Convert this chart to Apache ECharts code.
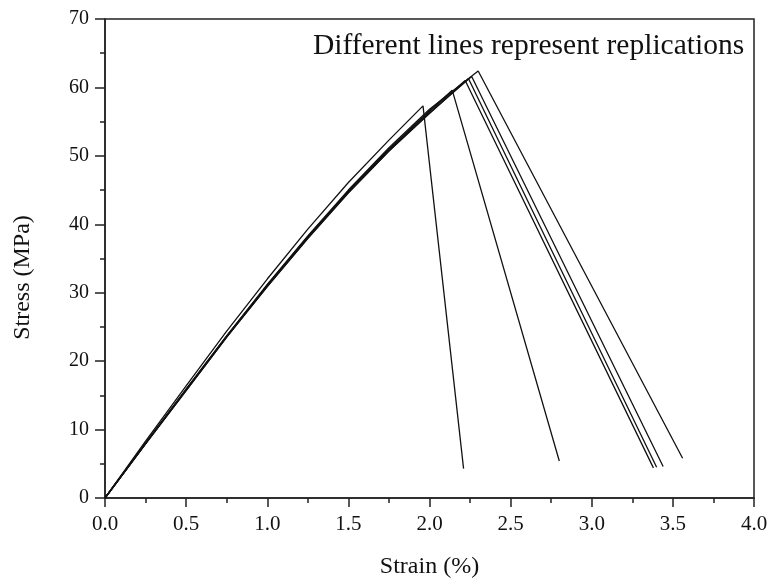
<!DOCTYPE html>
<html>
<head>
<meta charset="utf-8">
<script src="https://cdn.jsdelivr.net/npm/echarts@6/dist/echarts.min.js"></script>
<style>html,body{margin:0;padding:0;background:#fff;}#c{width:770px;height:580px;}</style>
</head>
<body>
<div id="c"></div>
<script>
// Strain (%) and Stress (MPa) for each replication
const strainA = [0, 0.25, 0.5, 0.75, 1.0, 1.25, 1.5, 1.75, 1.96, 2.21];
const stressA = [0, 8.3, 16.4, 24.4, 32.0, 39.3, 46.1, 52.3, 57.3, 4.3];
const strainB = [0, 0.25, 0.5, 0.75, 1.0, 1.25, 1.5, 1.75, 2.0, 2.14, 2.80];
const stressB = [0, 8.0, 15.9, 23.7, 31.1, 38.2, 44.9, 51.0, 56.6, 59.6, 5.4];
const strainC = [0, 0.25, 0.5, 0.75, 1.0, 1.25, 1.5, 1.75, 2.0, 2.22, 3.38];
const stressC = [0, 8.0, 15.8, 23.6, 31.0, 38.1, 44.8, 50.9, 56.5, 61.0, 4.4];
const strainD = [0, 0.25, 0.5, 0.75, 1.0, 1.25, 1.5, 1.75, 2.0, 2.24, 3.40];
const stressD = [0, 7.9, 15.7, 23.5, 30.9, 38.0, 44.6, 50.7, 56.2, 61.3, 4.5];
const strainE = [0, 0.25, 0.5, 0.75, 1.0, 1.25, 1.5, 1.75, 2.0, 2.26, 3.44];
const stressE = [0, 7.9, 15.7, 23.5, 30.9, 37.9, 44.6, 50.7, 56.3, 61.6, 4.6];
const strainF = [0, 0.25, 0.5, 0.75, 1.0, 1.25, 1.5, 1.75, 2.0, 2.30, 3.56];
const stressF = [0, 8.0, 15.9, 23.7, 31.2, 38.3, 45.0, 51.2, 56.8, 62.4, 5.8];

const xTicks = [0, 0.5, 1.0, 1.5, 2.0, 2.5, 3.0, 3.5, 4.0];
const yTicks = [0, 10, 20, 30, 40, 50, 60, 70];
const annotation = 'Different lines represent replications';

const curves = [[strainA, stressA], [strainB, stressB], [strainC, stressC], [strainD, stressD], [strainE, stressE], [strainF, stressF]];
const font = 'Liberation Serif';
const axisColor = '#222';

const chart = echarts.init(document.getElementById('c'), null, {renderer: 'canvas'});
chart.setOption({
  backgroundColor: '#fff',
  animation: false,
  title: {
    text: annotation, left: 313, top: 31, padding: 0,
    textStyle: {fontFamily: font, fontSize: 29.5, fontWeight: 'normal', color: '#111'}
  },
  grid: {left: 105, right: 16, top: 19, bottom: 82, outerBoundsMode: 'none', containLabel: false,
    show: true, borderColor: axisColor, borderWidth: 1.5, backgroundColor: 'transparent'},
  xAxis: {
    type: 'value', min: xTicks[0], max: xTicks[xTicks.length - 1], interval: 0.5,
    name: 'Strain (%)', nameLocation: 'middle', nameGap: 57,
    nameTextStyle: {fontFamily: font, fontSize: 24, color: '#111'},
    axisLine: {show: true, onZero: false, lineStyle: {color: axisColor, width: 1.5}},
    axisTick: {show: true, inside: false, length: 9, lineStyle: {color: axisColor, width: 1.5}},
    minorTick: {show: true, splitNumber: 2, length: 5, lineStyle: {color: axisColor, width: 1.5}},
    axisLabel: {fontFamily: font, fontSize: 21, color: '#111', margin: 16, formatter: v => v.toFixed(1)},
    splitLine: {show: false}
  },
  yAxis: {
    type: 'value', min: yTicks[0], max: yTicks[yTicks.length - 1], interval: 10,
    name: 'Stress (MPa)', nameLocation: 'middle', nameGap: 70,
    nameTextStyle: {fontFamily: font, fontSize: 24, color: '#111', padding: [0, 38, 0, 0]},
    axisLine: {show: true, onZero: false, lineStyle: {color: axisColor, width: 1.5}},
    axisTick: {show: true, inside: false, length: 10, lineStyle: {color: axisColor, width: 1.5}},
    minorTick: {show: true, splitNumber: 2, length: 5, lineStyle: {color: axisColor, width: 1.5}},
    axisLabel: {fontFamily: font, fontSize: 20, color: '#111', margin: 16},
    splitLine: {show: false}
  },
  series: curves.map(c => ({
    type: 'line',
    data: c[0].map((s, i) => [s, c[1][i]]),
    showSymbol: false,
    symbol: 'none',
    lineStyle: {color: '#111', width: 1.3},
    silent: true
  }))
});
</script>
</body>
</html>
